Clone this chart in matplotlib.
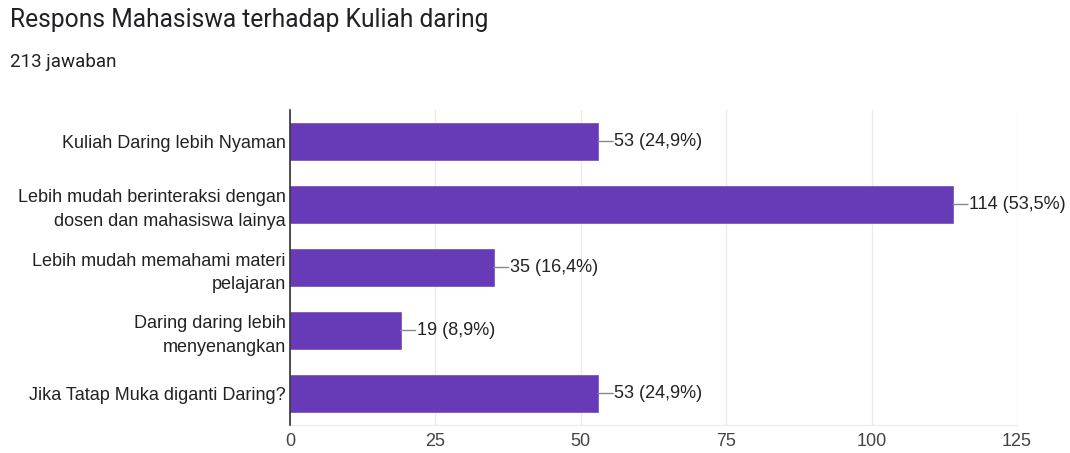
import matplotlib
matplotlib.use("Agg")
import matplotlib.pyplot as plt

categories = [
    "Kuliah Daring lebih Nyaman",
    "Lebih mudah berinteraksi dengan\ndosen dan mahasiswa lainya",
    "Lebih mudah memahami materi\npelajaran",
    "Daring daring lebih\nmenyenangkan",
    "Jika Tatap Muka diganti Daring?",
]
values = [53, 114, 35, 19, 53]
percents = ["24,9%", "53,5%", "16,4%", "8,9%", "24,9%"]
xticks = [0, 25, 50, 75, 100, 125]
title = "Respons Mahasiswa terhadap Kuliah daring"
subtitle = "213 jawaban"

fig = plt.figure(figsize=(10.7, 4.53), dpi=100)
ax = fig.add_axes([290/1070, 1-425/453, (1017-290)/1070, (425-110)/453])

ypos = list(range(len(categories)))
ax.barh(ypos, values, height=0.6, color="#673AB7", edgecolor="#7E57C2", linewidth=0.6, zorder=3)
ax.set_ylim(len(categories) - 0.5, -0.5)
ax.set_xlim(0, 125)
ax.set_xticks(xticks)
ax.set_xticklabels([str(t) for t in xticks], fontfamily="Liberation Sans", fontsize=13, color="#444444")
ax.set_yticks(ypos)
ax.set_yticklabels(categories, fontfamily="Liberation Sans", fontsize=13, color="#222222", linespacing=1.5)
ax.tick_params(axis="both", length=0)
ax.tick_params(axis="y", pad=3)
ax.tick_params(axis="x", pad=6)
ax.grid(axis="x", color="#ebebeb", linewidth=1, zorder=0)
for s in ["top", "right"]:
    ax.spines[s].set_visible(False)
ax.spines["bottom"].set_color("#ebebeb")
ax.spines["left"].set_color("#333333")
ax.spines["left"].set_linewidth(1.2)
ax.spines["left"].set_zorder(4)

for y, v, p in zip(ypos, values, percents):
    ax.annotate("", xy=(v, y), xytext=(15, 0), textcoords="offset pixels", xycoords="data",
                arrowprops=dict(arrowstyle="-", color="#888888", lw=1, shrinkA=0, shrinkB=0))
    ax.annotate(f"{v} ({p})", xy=(v, y), xytext=(16, 0), textcoords="offset pixels",
                ha="left", va="center", fontfamily="Liberation Sans", fontsize=13, color="#222222")

fig.text(10/1070, 1-20/453, title, fontfamily="Roboto", fontsize=17.7, color="#202124", ha="left", va="center")
fig.text(10/1070, 1-62/453, subtitle, fontfamily="Roboto", fontsize=13.5, color="#202124", ha="left", va="center")

fig.savefig("out.png", dpi=100, facecolor="white")
